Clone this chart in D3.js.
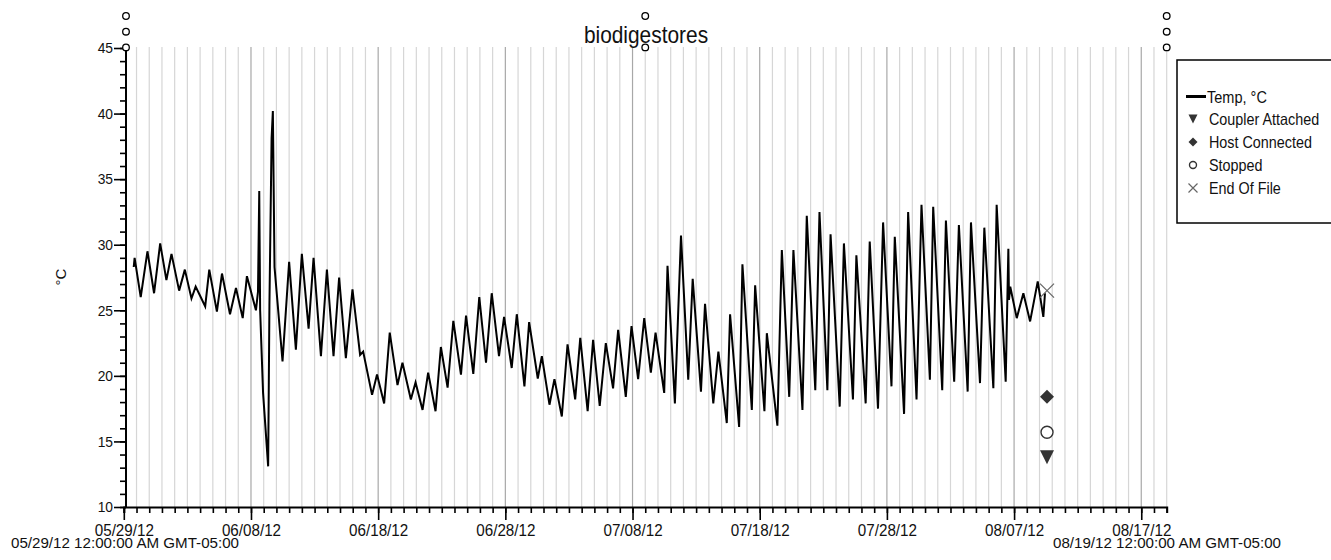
<!DOCTYPE html>
<html><head><meta charset="utf-8">
<script src="https://cdn.jsdelivr.net/npm/d3@7"></script>
<style>
body{margin:0;background:#fff}
text{font-family:'Liberation Sans',Arial,sans-serif;fill:#111}
</style>
</head><body>
<svg id="c" width="1331" height="560"></svg>
<script>
// ---------- data ----------
const title = "biodigestores";
const yLabel = "°C";
const startLabel = "05/29/12 12:00:00 AM GMT-05:00";
const endLabel = "08/19/12 12:00:00 AM GMT-05:00";
const xTickLabels = ["05/29/12","06/08/12","06/18/12","06/28/12","07/08/12","07/18/12","07/28/12","08/07/12","08/17/12"];
const yTickLabels = [10,15,20,25,30,35,40,45];
const seriesName = "Temp, °C";
// days since 05/29/12 00:00
const days = [0.78,0.85,1.33,1.86,2.38,2.86,3.35,3.75,4.35,4.80,5.32,5.65,5.95,6.40,6.72,7.32,7.72,8.35,8.82,9.35,9.68,10.39,10.55,10.65,10.72,10.95,11.35,11.45,11.62,11.72,11.85,12.48,13.00,13.53,14.00,14.53,14.92,15.50,15.97,16.49,16.93,17.46,17.98,
18.58,18.82,19.52,19.91,20.47,20.91,21.52,21.91,22.57,22.94,23.49,23.93,24.51,24.93,25.46,25.91,26.51,26.91,27.48,27.95,28.48,28.93,29.50,29.90,30.50,30.90,31.50,31.87,32.55,32.87,33.47,33.86,34.44,34.89,35.49,35.89,36.47,
36.90,37.42,37.90,38.47,38.87,39.47,39.92,40.44,40.92,41.44,41.81,42.49,42.75,43.33,43.81,44.38,44.73,45.38,45.70,46.35,46.75,47.41,47.67,48.38,48.64,49.38,49.64,50.37,50.56,51.39,51.74,52.32,52.65,53.36,53.70,54.37,54.70,
55.32,55.57,56.29,56.62,57.33,57.60,58.33,58.65,59.30,59.70,60.36,60.62,61.35,61.67,62.33,62.72,63.38,63.64,64.35,64.64,65.29,65.66,66.35,66.61,67.32,67.66,68.37,68.63,69.34,69.55,69.60,69.70,70.21,70.73,71.26,71.86,72.30,72.43];
const temps = [28.3,29.0,26.0,29.5,26.3,30.1,27.3,29.3,26.5,28.1,25.9,26.8,26.2,25.3,28.1,24.9,27.8,24.7,26.7,24.4,27.6,25.0,26.4,34.1,25.0,18.7,13.1,25.4,38.1,40.2,28.3,21.1,28.7,22.0,29.3,23.6,29.0,21.5,28.1,21.5,27.5,21.35,26.6,
21.6,21.85,18.55,20.1,17.9,23.3,19.3,21.0,18.2,19.5,17.4,20.25,17.3,22.2,19.1,24.2,20.1,24.6,20.15,26.0,21.0,26.3,21.5,24.5,20.6,24.7,19.2,24.1,19.8,21.5,17.8,19.75,16.9,22.4,18.2,22.9,17.3,
22.75,17.7,22.5,19.05,23.5,18.4,23.8,19.75,24.4,20.25,23.3,18.7,28.4,17.9,30.7,19.7,27.4,18.8,25.5,17.9,21.85,16.4,24.7,16.1,28.5,17.4,26.9,17.3,23.25,16.2,29.6,18.4,29.6,17.4,32.2,18.9,32.5,
18.9,30.8,17.65,30.1,18.2,29.2,17.9,30.25,17.5,31.7,19.2,30.6,17.1,32.5,18.2,33.05,19.7,32.9,18.9,31.85,19.55,31.5,18.8,31.7,19.45,31.3,19.05,33.05,19.55,29.7,25.8,26.8,24.4,26.3,24.15,27.2,24.5,26.3];
const eventNames = ["Coupler Attached","Host Connected","Stopped","End Of File"];
const eventSymbols = ["triangle","diamond","circle","cross"];
const eventDays = [72.59,72.59,72.59,72.59];
const eventValues = [13.8,18.4,15.7,26.5];
// small circles above the plot (day, stack level)
const topMarkDays = [0,0,0,41,41,82,82,82];
const topMarkLevels = [0,1,2,0,2,0,1,2];

// ---------- helpers ----------
function squeeze(sel, factor){
  sel.each(function(){
    const w = this.getComputedTextLength();
    d3.select(this).attr('textLength', w*factor).attr('lengthAdjust','spacingAndGlyphs');
  });
}

// ---------- layout ----------
const svg = d3.select('#c');
const start = Date.UTC(2012,4,29), end = Date.UTC(2012,7,19);
const toDate = d => new Date(start + d*864e5);
const x = d3.scaleUtc().domain([new Date(start), new Date(end)]).range([123.8,1166.7]);
const y = d3.scaleLinear().domain([10,45]).range([507,48]);
const parse = d3.utcParse("%m/%d/%y");
const majorDates = xTickLabels.map(parse);
const allDays = d3.utcDay.range(new Date(start), new Date(end+1));
const fmt = d3.utcFormat("%m/%d/%y");

// grid lines
const gridDays = d3.utcDay.range(new Date(start+864e5), new Date(end+1));
const majorSet = new Set(majorDates.map(d=>+d));
svg.append('g').selectAll('line').data(gridDays).join('line')
  .attr('x1',d=>x(d)).attr('x2',d=>x(d)).attr('y1',y(45)-1).attr('y2',y(10))
  .attr('stroke',d=>majorSet.has(+d)?'#a8a8a8':'#d6d6d6').attr('stroke-width',1.2);

// line
const line = d3.line().x((d,i)=>x(toDate(days[i]))).y((d,i)=>y(temps[i]));
svg.append('path').datum(temps).attr('d',line).attr('fill','none')
  .attr('stroke','#000').attr('stroke-width',2).attr('stroke-linejoin','miter');

// x axis
const xMinor = d3.axisBottom(x).tickValues(allDays).tickSize(6).tickFormat('');
const gxm = svg.append('g').attr('transform','translate(0,507)').call(xMinor);
gxm.select('.domain').attr('stroke','#000').attr('stroke-width',2);
gxm.selectAll('.tick line').attr('stroke','#000').attr('stroke-width',1.6);
const xMajor = d3.axisBottom(x).tickValues(majorDates).tickSize(13).tickPadding(5).tickFormat(fmt);
const gxM = svg.append('g').attr('transform','translate(0,507)').call(xMajor);
gxM.select('.domain').remove();
gxM.selectAll('.tick line').attr('stroke','#000').attr('stroke-width',1.6);
gxM.selectAll('text').attr('font-size',16).style('font-family',"'Liberation Sans',Arial,sans-serif").attr('fill','#111');
squeeze(gxM.selectAll('text'), 0.95);

// y axis
const yMinor = d3.axisLeft(y).tickValues(d3.range(10,46,1)).tickSize(6).tickFormat('');
const gym = svg.append('g').attr('transform','translate(126,0)').call(yMinor);
gym.select('.domain').attr('stroke','#000').attr('stroke-width',2).attr('d','M0,47V507');
gym.selectAll('.tick line').attr('stroke','#000').attr('stroke-width',1.6);
const yMajor = d3.axisLeft(y).tickValues(yTickLabels).tickSize(12).tickPadding(1);
const gyM = svg.append('g').attr('transform','translate(126,0)').call(yMajor);
gyM.select('.domain').remove();
gyM.selectAll('.tick line').attr('stroke','#000').attr('stroke-width',1.6);
gyM.selectAll('text').attr('font-size',15).style('font-family',"'Liberation Sans',Arial,sans-serif").attr('fill','#111');
squeeze(gyM.selectAll('text'), 0.92);

// y label
svg.append('text').attr('transform','translate(66,277) rotate(-90)').attr('text-anchor','middle')
  .attr('font-size',15).text(yLabel);

// title
const tt = svg.append('text').attr('x',646).attr('y',42.5).attr('text-anchor','middle')
  .attr('font-size',24).text(title);
squeeze(tt, 0.87);

// top small circles
svg.append('g').selectAll('circle').data(topMarkDays).join('circle')
  .attr('cx',(d,i)=>d===0?126:x(toDate(d))).attr('cy',(d,i)=>16+topMarkLevels[i]*15.7).attr('r',3.3)
  .attr('fill','#fff').attr('stroke','#000').attr('stroke-width',1.3);

// bottom range labels
const b1 = svg.append('text').attr('x',125).attr('y',548).attr('text-anchor','middle').attr('font-size',15.5).text(startLabel);
const b2 = svg.append('text').attr('x',1167).attr('y',548).attr('text-anchor','middle').attr('font-size',15.5).text(endLabel);
b1.attr('textLength',228).attr('lengthAdjust','spacingAndGlyphs');
b2.attr('textLength',228).attr('lengthAdjust','spacingAndGlyphs');

// symbols
function drawSymbol(g, type, cx, cy, s){
  if(type==='triangle') g.append('path').attr('d',`M${cx-s/2},${cy-s/2}L${cx+s/2},${cy-s/2}L${cx},${cy+s/2}Z`).attr('fill','#333');
  else if(type==='diamond') g.append('path').attr('d',`M${cx},${cy-s/2}L${cx+s/2},${cy}L${cx},${cy+s/2}L${cx-s/2},${cy}Z`).attr('fill','#333');
  else if(type==='circle') g.append('circle').attr('cx',cx).attr('cy',cy).attr('r',s/2-1).attr('fill','#fff').attr('stroke','#333').attr('stroke-width',1.4);
  else g.append('path').attr('d',`M${cx-s/2},${cy-s/2}L${cx+s/2},${cy+s/2}M${cx+s/2},${cy-s/2}L${cx-s/2},${cy+s/2}`).attr('stroke','#666').attr('stroke-width',1.2).attr('fill','none');
}
const ev = svg.append('g');
eventNames.forEach((n,i)=>drawSymbol(ev, eventSymbols[i], x(toDate(eventDays[i])), y(eventValues[i]), 14));

// legend
const lg = svg.append('g');
lg.append('rect').attr('x',1177).attr('y',60).attr('width',170).attr('height',163)
  .attr('fill','#fff').attr('stroke','#000').attr('stroke-width',1.5);
const rowY = [96.5,119,142,165,188];
lg.append('line').attr('x1',1186).attr('x2',1206).attr('y1',rowY[0]).attr('y2',rowY[0]).attr('stroke','#000').attr('stroke-width',3);
const t0 = lg.append('text').attr('x',1207).attr('y',rowY[0]+6).attr('font-size',16.5).text(seriesName);
squeeze(t0, 0.88);
eventNames.forEach((n,i)=>{
  drawSymbol(lg, eventSymbols[i], 1193, rowY[i+1], 9);
  const t = lg.append('text').attr('x',1209).attr('y',rowY[i+1]+6).attr('font-size',16.5).attr('fill','#222').text(n);
  squeeze(t, 0.87);
});
</script>
</body></html>
